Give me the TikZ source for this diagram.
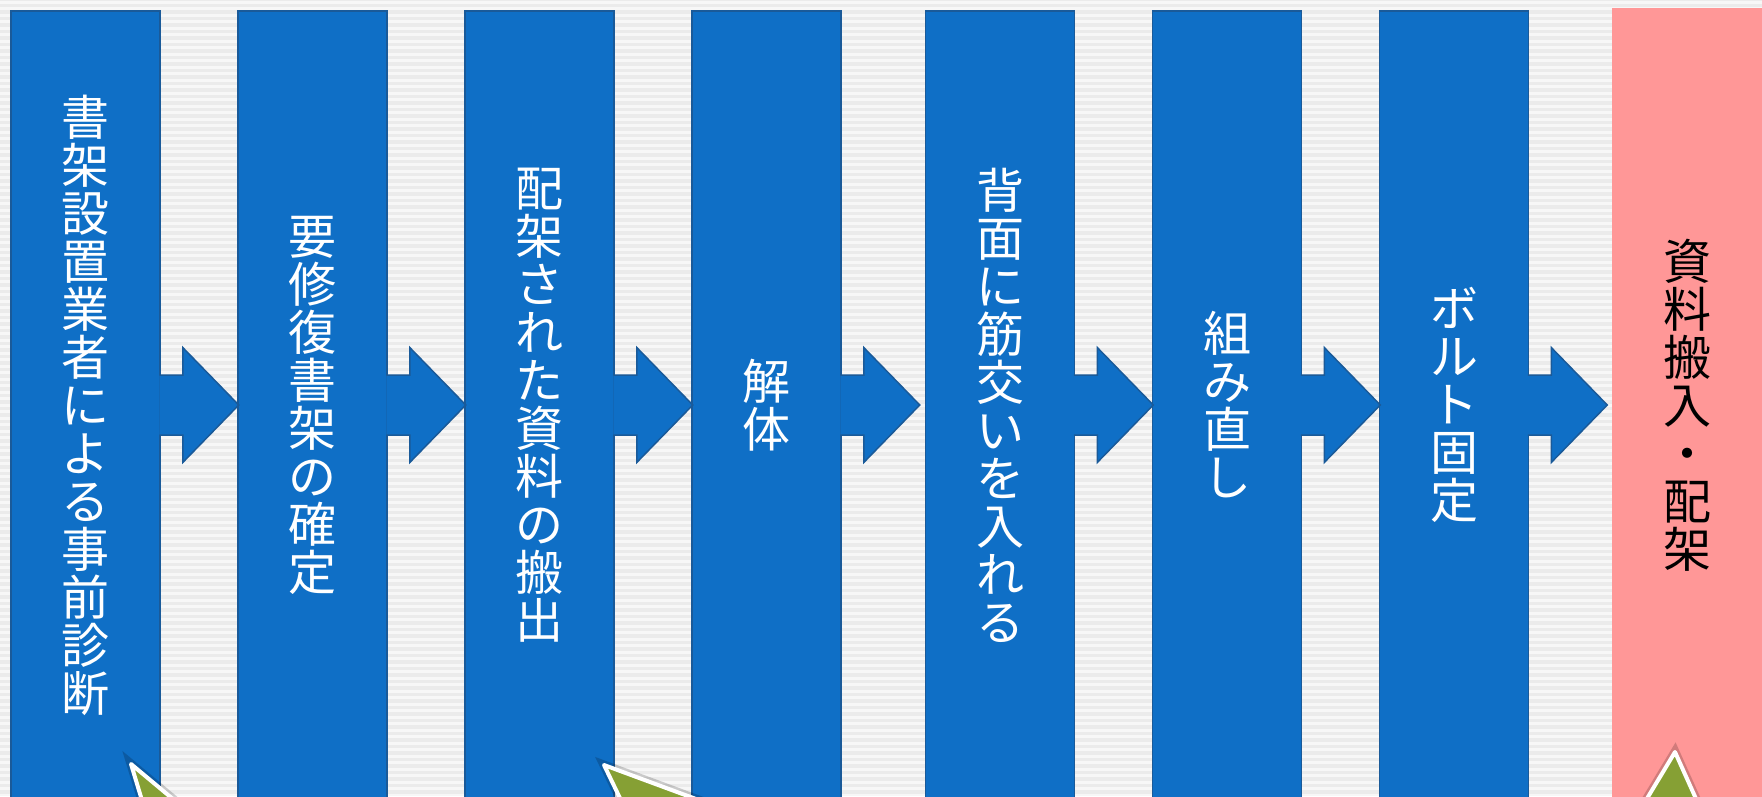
\documentclass[tikz,border=0pt]{standalone}
\usepackage{fontspec}
\usepackage{tikz}
\usetikzlibrary{calc}
\newfontfamily\jpfont{Noto Sans CJK JP}
\definecolor{stageblue}{HTML}{0F6FC6}
\definecolor{stageline}{HTML}{1A5A99}
\definecolor{goalpink}{HTML}{FF9797}
\definecolor{pointgreen}{HTML}{86A034}
\definecolor{backgray}{HTML}{EBEBEB}
\tikzstyle{stage} = [rectangle, draw=stageline, fill=stageblue, line width=1.5pt, minimum width=149pt, minimum height=788pt, inner sep=0pt, text=white, align=center, font=\jpfont\fontsize{48}{48}\selectfont]
\tikzstyle{goal} = [rectangle, fill=goalpink, minimum width=150pt, minimum height=794pt, inner sep=0pt, text=black, align=center, font=\jpfont\fontsize{48}{48}\selectfont]
\tikzset{flow/.style = {
    fill=stageblue, draw=stageline,
    line width=1.5pt, line join=miter,
  }
}
\tikzset{pointer/.style = {
    fill=pointgreen, draw=white, line width=4pt, line join=round,
    preaction={draw=black, opacity=0.18, line width=9pt},
  }
}

\begin{document}
\begin{tikzpicture}[x=1pt, y=-1pt]
  \useasboundingbox (0,0) rectangle (1762,796);
  \clip (0,0) rectangle (1762,796);
  % background
  \fill[backgray] (0,0) rectangle (1762,796);
  \foreach \y in {2,8.5,...,796} \draw[white, line width=3pt, opacity=0.6] (0,\y) -- (1762,\y);

  % steps
  \node[stage] (c1) at (85.5,405) {書\\架\\設\\置\\業\\者\\に\\よ\\る\\事\\前\\診\\断};
  \node[stage] (c2) at (312.5,405) {要\\修\\復\\書\\架\\の\\確\\定};
  \node[stage] (c3) at (539.5,405) {配\\架\\さ\\れ\\た\\資\\料\\の\\搬\\出};
  \node[stage] (c4) at (766.5,405) {解\\体};
  \node[stage] (c5) at (1000,405) {背\\面\\に\\筋\\交\\い\\を\\入\\れ\\る};
  \node[stage] (c6) at (1227,405) {組\\み\\直\\し};
  \node[stage] (c7) at (1454,405) {ボ\\ル\\ト\\固\\定};
  \node[goal] (c8) at (1687,405) {資\\料\\搬\\入\\・\\配\\架};

  % arrows
  \filldraw[flow] ($(c1.east)+(-1.5,-30)$) -- ++(23.5,0) -- ++(0,-27.5) -- ++(56,57.5) -- ++(-56,57.5) -- ++(0,-27.5) -- ++(-23.5,0);
  \filldraw[flow] ($(c2.east)+(-1.5,-30)$) -- ++(23.5,0) -- ++(0,-27.5) -- ++(56,57.5) -- ++(-56,57.5) -- ++(0,-27.5) -- ++(-23.5,0);
  \filldraw[flow] ($(c3.east)+(-1.5,-30)$) -- ++(23.5,0) -- ++(0,-27.5) -- ++(56,57.5) -- ++(-56,57.5) -- ++(0,-27.5) -- ++(-23.5,0);
  \filldraw[flow] ($(c4.east)+(-1.5,-30)$) -- ++(23.5,0) -- ++(0,-27.5) -- ++(56,57.5) -- ++(-56,57.5) -- ++(0,-27.5) -- ++(-23.5,0);
  \filldraw[flow] ($(c5.east)+(-1.5,-30)$) -- ++(23.5,0) -- ++(0,-27.5) -- ++(56,57.5) -- ++(-56,57.5) -- ++(0,-27.5) -- ++(-23.5,0);
  \filldraw[flow] ($(c6.east)+(-1.5,-30)$) -- ++(23.5,0) -- ++(0,-27.5) -- ++(56,57.5) -- ++(-56,57.5) -- ++(0,-27.5) -- ++(-23.5,0);
  \filldraw[flow] ($(c7.east)+(-1.5,-30)$) -- ++(23.5,0) -- ++(0,-27.5) -- ++(56,57.5) -- ++(-56,57.5) -- ++(0,-27.5) -- ++(-23.5,0);

  % pointers at the bottom
  \filldraw[pointer] (131,764) -- (157,850) -- (234,850) -- cycle;
  \filldraw[pointer] (604,765) -- (645,850) -- (834,850) -- cycle;
  \filldraw[pointer] (1675,752) -- (1616,850) -- (1719,850) -- cycle;
\end{tikzpicture}
\end{document}
